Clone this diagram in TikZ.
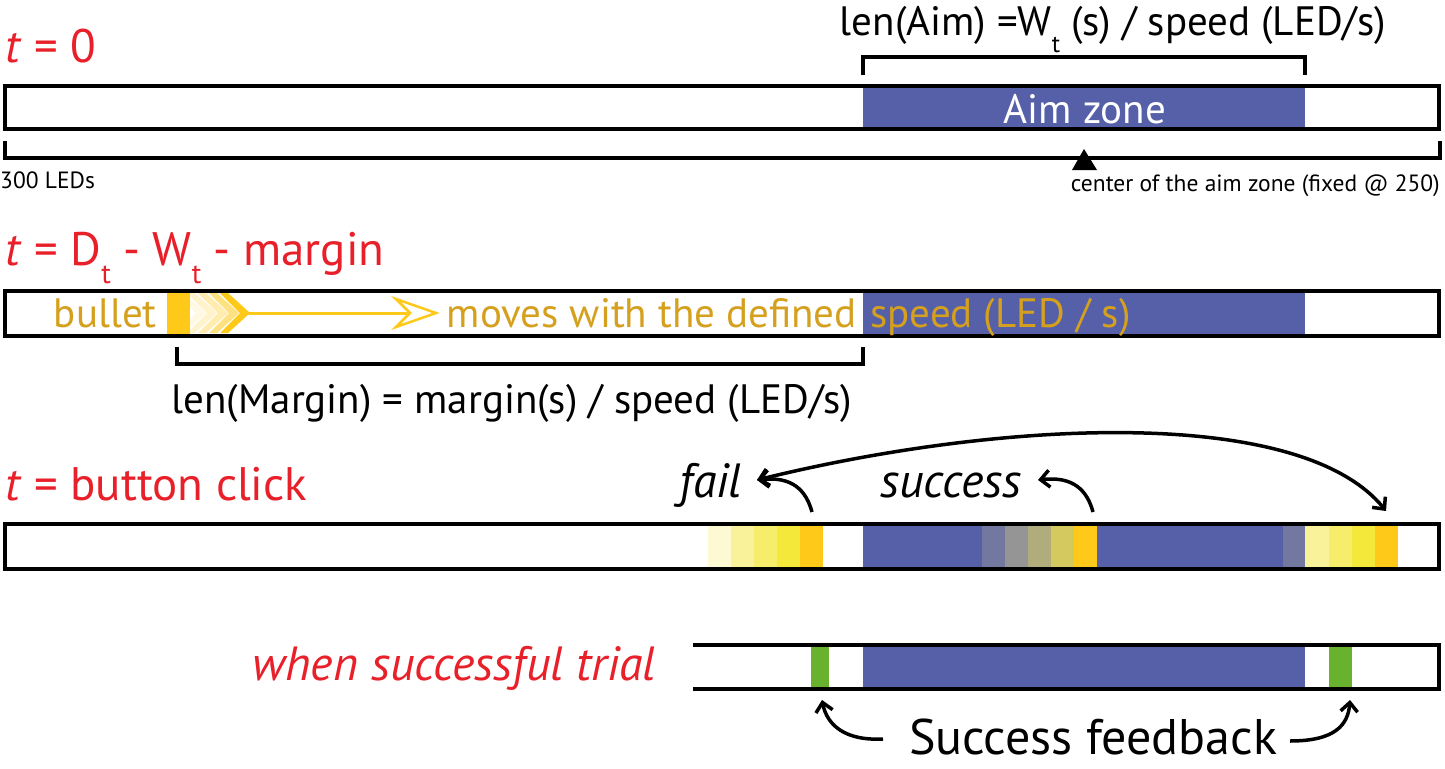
\documentclass[tikz,border=0pt]{standalone}
\usepackage{fontspec}
\setmainfont{PT Sans}
\usetikzlibrary{arrows.meta}
\definecolor{tred}{RGB}{232,32,42}
\definecolor{aimblue}{RGB}{85,96,168}
\definecolor{gold}{RGB}{212,160,30}
\definecolor{bul}{RGB}{254,201,24}
\definecolor{ya}{RGB}{253,249,210}
\definecolor{yb}{RGB}{249,242,154}
\definecolor{yc}{RGB}{246,238,106}
\definecolor{yd}{RGB}{244,233,58}
\definecolor{ga}{RGB}{114,120,160}
\definecolor{gb}{RGB}{149,149,149}
\definecolor{gc}{RGB}{176,172,124}
\definecolor{gd}{RGB}{211,201,94}
\definecolor{okgreen}{RGB}{104,178,46}
\newcommand{\lsub}[1]{\raisebox{-0.4em}{\scalebox{0.6}{#1}}}
\begin{document}
\begin{tikzpicture}[x=1pt,y=-1pt,
  bar/.style={draw=black,line width=4pt},
  brk/.style={draw=black,line width=3.5pt},
  lbl/.style={inner sep=0pt,font=\fontsize{41}{48}\selectfont},
  ttl/.style={inner sep=0pt,text=tred,anchor=base west,font=\fontsize{47}{56}\selectfont},
  itl/.style={inner sep=0pt,font=\fontsize{48}{56}\selectfont\itshape},
  small/.style={inner sep=0pt,font=\fontsize{23.5}{28}\selectfont},
  curv/.style={line width=3.5pt,-{Straight Barb[length=9pt,width=17pt,line width=3.5pt]}},
  dcurv/.style={line width=3.5pt,{Straight Barb[length=9pt,width=17pt,line width=3.5pt]}-{Straight Barb[length=9pt,width=17pt,line width=3.5pt]}},
]
\useasboundingbox (0,0) rectangle (1445,768);

% ---------- row 1: t = 0
\fill[aimblue] (863,88) rectangle (1305,127);
\draw[bar] (5,86) rectangle (1439,129);
\node[lbl,text=white,anchor=base] (aimz) at (1085,123) {Aim zone};
\draw[brk] (863,75) -- (863,57) -- (1305,57) -- (1305,75);
\node[lbl,anchor=base] (lenaim) at (1113,36) {len(Aim) =W\lsub{t} (s) / speed (LED/s)};
\draw[brk] (5,141) -- (5,158) -- (1440,158) -- (1440,141);
\fill (1084,149) -- (1097,170) -- (1072,170) -- cycle;
\node[small,anchor=base west] (leds) at (0,188) {300 LEDs};
\node[small,anchor=base east] (center) at (1440,191) {center of the aim zone (fixed @ 250)};
\node[ttl] (t0) at (5,63) {\textit{t} = 0};

% ---------- row 2: t = Dt - Wt - margin
\node[ttl] (t1) at (5,265) {\textit{t} = D\lsub{t} - W\lsub{t} - margin};
\fill[aimblue] (863,293) rectangle (1305,334);
\fill[bul] (167,293) rectangle (190,334);
\foreach \dx/\op in {-44/0.12,-33/0.22,-22/0.35,-11/0.55,0/1}{
  \fill[bul,opacity=\op] (228+\dx,293) -- (250+\dx,313) -- (228+\dx,333) -- (220+\dx,333) -- (240+\dx,313) -- (220+\dx,293) -- cycle;
}
\draw[bul,line width=3pt] (245,313) -- (420,313);
\draw[bul,line width=2.5pt,fill=white,line join=miter] (436,313) -- (396,299) -- (410,313) -- (396,327) -- cycle;
\draw[bar] (5,291) rectangle (1439,336);
\node[lbl,text=gold,anchor=base east] (bullet) at (157,327) {bullet};
\node[lbl,text=gold,anchor=base east] (moves) at (857,327) {moves with the defined};
\node[lbl,text=gold,anchor=base west] (speed) at (870,327) {speed (LED / s)};
\draw[brk] (177,347) -- (177,364) -- (863,364) -- (863,347);
\node[lbl,anchor=base] (lenmar) at (512,413) {len(Margin) = margin(s) / speed (LED/s)};

% ---------- row 3: t = button click
\node[ttl] (t2) at (5,500) {\textit{t} = button click};
\fill[aimblue] (863,526) rectangle (1305,567);
\foreach \a/\b/\c in {708/731/ya,731/754/yb,754/777/yc,777/800/yd,800/823/bul,
  982/1005/ga,1005/1028/gb,1028/1051/gc,1051/1074/gd,1074/1097/bul,
  1283/1305/ga,1305/1329/yb,1329/1352/yc,1352/1375/yd,1375/1398/bul}{
  \fill[\c] (\a,526) rectangle (\b,567);
}
\draw[bar] (5,524) rectangle (1439,569);
\node[itl,anchor=base east] (fail) at (742,497) {fail};
\node[itl,anchor=base west] (succ) at (880,497) {success};
\coordinate (fS) at (812,512);
\coordinate (sS) at (1093,512);
\coordinate (rE) at (1386,511);
\draw[curv] (fS) .. controls (806,490) and (792,476) .. (757,480);
\draw[curv] (sS) .. controls (1087,490) and (1073,476) .. (1038,480);
\draw[dcurv] (757,480) .. controls (1000,420) and (1300,405) .. (rE);

% ---------- row 4: when successful trial
\node[itl,anchor=base east,text=tred] (when) at (656,680) {when successful trial};
\fill[aimblue] (863,647) rectangle (1305,687);
\fill[okgreen] (811,647) rectangle (829,687);
\fill[okgreen] (1329,647) rectangle (1352,687);
\draw[bar,line join=miter] (693,645) -- (1439,645) -- (1439,689) -- (693,689);
\node[inner sep=0pt,anchor=base,font=\fontsize{50}{58}\selectfont] (feed) at (1093,754) {Success feedback};
\coordinate (gL) at (822,700);
\coordinate (gR) at (1350,700);
\draw[curv] (883,739) .. controls (845,741) and (827,725) .. (gL);
\draw[curv] (1290,741) .. controls (1335,741) and (1348,725) .. (gR);
\end{tikzpicture}
\end{document}
